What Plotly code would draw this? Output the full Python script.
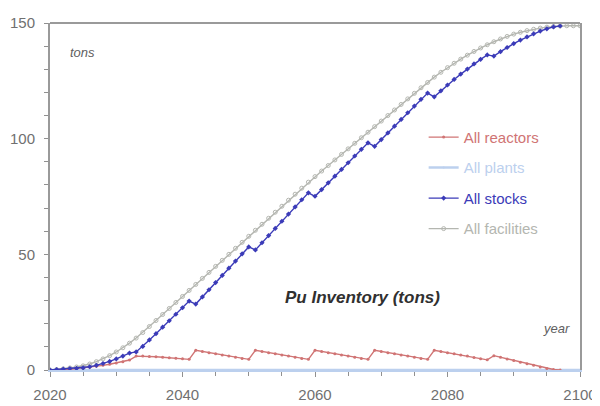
import plotly.graph_objects as go

years = list(range(2020, 2101))

reactors = [0.0, 0.0, 0.1, 0.3, 0.6, 0.9, 1.2, 1.6, 2.0, 2.5,
            3.0, 3.6, 4.3, 6.0, 6.0, 5.8, 5.7, 5.5, 5.3, 5.1,
            4.9, 4.6, 8.5, 8.0, 7.5, 7.0, 6.5, 6.0, 5.5, 5.0,
            4.6, 8.5, 8.0, 7.5, 7.0, 6.5, 6.0, 5.5, 5.0, 4.6,
            8.5, 8.0, 7.5, 7.0, 6.5, 6.0, 5.5, 5.0, 4.6, 8.5,
            8.0, 7.5, 7.0, 6.5, 6.0, 5.5, 5.0, 4.6, 8.5, 8.0,
            7.5, 7.0, 6.5, 6.0, 5.4, 4.9, 4.4, 6.2, 5.5, 4.8,
            4.1, 3.4, 2.7, 2.0, 1.3, 0.7, 0.2, 0.0, None, None,
            None]

plants = [0.0, 0.0, 0.0, 0.0, 0.0, 0.0, 0.0, 0.0, 0.0, 0.0,
          0.0, 0.0, 0.0, 0.0, 0.0, 0.0, 0.0, 0.0, 0.0, 0.0,
          0.0, 0.0, 0.0, 0.0, 0.0, 0.0, 0.0, 0.0, 0.0, 0.0,
          0.0, 0.0, 0.0, 0.0, 0.0, 0.0, 0.0, 0.0, 0.0, 0.0,
          0.0, 0.0, 0.0, 0.0, 0.0, 0.0, 0.0, 0.0, 0.0, 0.0,
          0.0, 0.0, 0.0, 0.0, 0.0, 0.0, 0.0, 0.0, 0.0, 0.0,
          0.0, 0.0, 0.0, 0.0, 0.0, 0.0, 0.0, 0.0, 0.0, 0.0,
          0.0, 0.0, 0.0, 0.0, 0.0, 0.0, 0.0, 0.0, 0.0, 0.0,
          0.0]

stocks = [0.0, 0.2, 0.4, 0.6, 0.7, 0.9, 1.4, 2.0, 2.8, 3.7,
          4.8, 6.0, 7.3, 7.8, 10.2, 13.0, 15.7, 18.5, 21.3, 24.1,
          26.9, 29.8, 28.5, 31.6, 34.7, 37.8, 40.9, 44.0, 47.1, 50.2,
          53.2, 51.9, 55.0, 58.1, 61.2, 64.3, 67.4, 70.5, 73.6, 76.6,
          75.1, 78.0, 80.9, 83.8, 86.7, 89.6, 92.5, 95.4, 98.2, 96.7,
          99.6, 102.5, 105.4, 108.3, 111.2, 114.1, 117.0, 119.7, 118.1, 120.7,
          123.2, 125.6, 127.9, 130.1, 132.3, 134.3, 136.2, 135.7, 137.6, 139.4,
          141.1, 142.6, 144.0, 145.3, 146.5, 147.5, 148.3, 148.7, None, None,
          None]

facilities = [0.0, 0.2, 0.5, 0.9, 1.3, 1.8, 2.6, 3.6, 4.8, 6.2,
              7.8, 9.6, 11.6, 13.8, 16.2, 18.8, 21.4, 24.0, 26.6, 29.2,
              31.8, 34.4, 37.0, 39.6, 42.2, 44.8, 47.4, 50.0, 52.6, 55.2,
              57.8, 60.4, 63.0, 65.6, 68.2, 70.8, 73.4, 76.0, 78.6, 81.2,
              83.6, 86.0, 88.4, 90.8, 93.2, 95.6, 98.0, 100.4, 102.8, 105.2,
              107.6, 110.0, 112.4, 114.8, 117.2, 119.6, 122.0, 124.3, 126.6, 128.7,
              130.7, 132.6, 134.4, 136.1, 137.7, 139.2, 140.6, 141.9, 143.1, 144.2,
              145.2, 146.0, 146.7, 147.3, 147.8, 148.2, 148.5, 148.7, 148.8, 148.8,
              148.8]

# (name, values, colour, marker symbol, marker size, legend rank); drawn in list order
series = [
    ("All facilities", facilities, "#b4b6b0", "circle-open", 4, 4),
    ("All plants", plants, "#bcd0ee", "circle", 2, 2),
    ("All reactors", reactors, "#d07474", "circle", 3, 1),
    ("All stocks", stocks, "#3b3bb8", "diamond", 4, 3),
]

fig = go.Figure()
for name, vals, col, sym, msz, rank in series:
    fig.add_trace(go.Scatter(
        x=years, y=vals, mode="lines+markers",
        name=f"<span style='color:{col}'>{name}</span>",
        legendgroup=name, legendrank=rank,
        line=dict(color=col, width=1.4 if name != "All plants" else 2.5),
        marker=dict(color=col, size=msz, symbol=sym),
        connectgaps=False,
    ))

# the page body adds an 8px offset, so the figure is 8px smaller than the window
fig.update_layout(
    width=592, height=398,
    paper_bgcolor="white", plot_bgcolor="white",
    margin=dict(l=42, r=20, t=15, b=36),
    font=dict(family="Liberation Sans, Arial, sans-serif", size=15, color="#707070"),
    showlegend=True,
    legend=dict(
        x=0.705, y=0.718, xanchor="left", yanchor="top",
        bgcolor="rgba(0,0,0,0)", font=dict(size=15),
        tracegroupgap=8, itemwidth=30, traceorder="grouped",
    ),
    xaxis=dict(
        range=[2020, 2100], tickvals=[2020, 2040, 2060, 2080, 2100],
        showgrid=False, zeroline=False, automargin=False,
        showline=True, linecolor="#bcd0ee", linewidth=2,
        ticks="outside", ticklen=5, tickcolor="#909090", tickwidth=1,
        minor=dict(dtick=5, ticks="outside", ticklen=4, tickcolor="#909090"),
        ticklabelstandoff=5,
    ),
    yaxis=dict(
        range=[0, 150], tickvals=[0, 50, 100, 150],
        showgrid=False, zeroline=False, automargin=False,
        showline=True, linecolor="#9a9a9a", linewidth=2, mirror=True,
        ticks="outside", ticklen=4, tickcolor="#909090", tickwidth=1,
        minor=dict(dtick=10, ticks="outside", ticklen=4, tickcolor="#909090"),
        ticklabelstandoff=6,
    ),
    shapes=[dict(type="line", xref="paper", yref="paper", x0=0, x1=1, y0=1, y1=1,
                 line=dict(color="#9a9a9a", width=2))],
    annotations=[
        dict(text="<i>tons</i>", xref="paper", yref="paper", x=0.034, y=0.915,
             xanchor="left", yanchor="middle", showarrow=False,
             font=dict(size=13, color="#606060")),
        dict(text="<i>year</i>", xref="paper", yref="paper", x=0.985, y=0.12,
             xanchor="right", yanchor="middle", showarrow=False,
             font=dict(size=13, color="#606060")),
        dict(text="<b><i>Pu Inventory (tons)</i></b>", xref="paper", yref="paper",
             x=0.44, y=0.21, xanchor="left", yanchor="middle", showarrow=False,
             font=dict(size=17, color="#303030")),
    ],
)

fig.write_html("out.html")
